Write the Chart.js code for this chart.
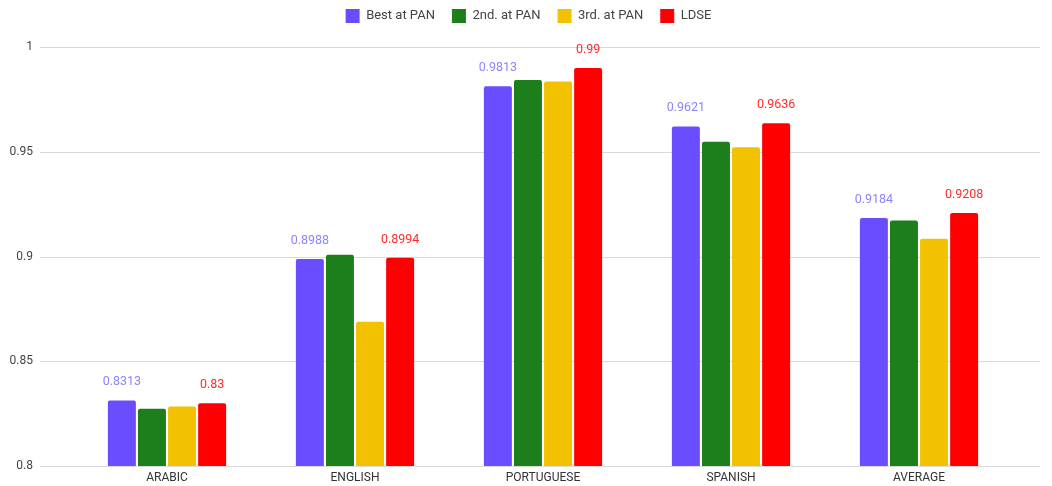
<!DOCTYPE html>
<html>
<head>
<meta charset="utf-8">
<script src="https://cdn.jsdelivr.net/npm/chart.js@4.4.1/dist/chart.umd.min.js"></script>
<style>
  html, body { margin: 0; padding: 0; background: #fff; }
  #wrap { width: 1052px; height: 486px; }
</style>
</head>
<body>
<div id="wrap"><canvas id="chart"></canvas></div>
<script>
  const categories = ["ARABIC", "ENGLISH", "PORTUGUESE", "SPANISH", "AVERAGE"];
  const bestAtPan = [0.8313, 0.8988, 0.9813, 0.9621, 0.9184];
  const secondAtPan = [0.8273, 0.9008, 0.9843, 0.9548, 0.9172];
  const thirdAtPan = [0.8284, 0.8688, 0.9835, 0.9521, 0.9085];
  const ldse = [0.83, 0.8994, 0.99, 0.9636, 0.9208];
  const yTicks = [0.8, 0.85, 0.9, 0.95, 1];

  const FONT = "Roboto, 'Noto Sans', sans-serif";

  // gridlines in the original run past the plot area on both sides
  const wideGrid = {
    id: "wideGrid",
    beforeDatasetsDraw(chart) {
      const ctx = chart.ctx;
      const y = chart.scales.y;
      ctx.save();
      ctx.strokeStyle = "#d9d9d9";
      ctx.lineWidth = 1;
      yTicks.forEach((v) => {
        const py = Math.round(y.getPixelForValue(v)) + 0.5;
        ctx.beginPath();
        ctx.moveTo(40, py);
        ctx.lineTo(1040, py);
        ctx.stroke();
      });
      ctx.restore();
    },
  };

  // value labels above the "Best" and "LDSE" bars only
  const valueLabels = {
    id: "valueLabels",
    afterDatasetsDraw(chart) {
      const ctx = chart.ctx;
      ctx.save();
      ctx.font = "12.5px " + FONT;
      ctx.textAlign = "center";
      ctx.textBaseline = "bottom";
      [0, 3].forEach((di) => {
        const ds = chart.data.datasets[di];
        chart.getDatasetMeta(di).data.forEach((bar, i) => {
          ctx.fillStyle = ds.labelColor;
          ctx.fillText(String(ds.data[i]), bar.x, bar.y - 12);
        });
      });
      ctx.restore();
    },
  };

  // legend sits near the top edge with a wide gap before the plot,
  // and is centred on the whole canvas rather than the padded area
  const legendGap = {
    id: "legendGap",
    beforeInit(chart) {
      const origFit = chart.legend.fit;
      chart.legend.fit = function () {
        origFit.call(this);
        this.height = 47;
      };
    },
    afterLayout(chart) {
      const lg = chart.legend;
      lg.left += 22;
      lg.right += 22;
      lg.top -= 8;
      lg.bottom -= 8;
    },
  };

  new Chart(document.getElementById("chart"), {
    type: "bar",
    data: {
      labels: categories,
      datasets: [
        { label: "Best at PAN", data: bestAtPan, backgroundColor: "#6a4dff", labelColor: "#8c84ff" },
        { label: "2nd. at PAN", data: secondAtPan, backgroundColor: "#1c7f1c" },
        { label: "3rd. at PAN", data: thirdAtPan, backgroundColor: "#f2c200" },
        { label: "LDSE", data: ldse, backgroundColor: "#ff0000", labelColor: "#ff2b2b" },
      ],
    },
    options: {
      responsive: true,
      maintainAspectRatio: false,
      animation: false,
      layout: { padding: { top: 0, right: 39, bottom: 0, left: 0 } },
      datasets: {
        bar: { categoryPercentage: 0.64, barPercentage: 0.93, borderRadius: 2 },
      },
      scales: {
        x: {
          afterFit(axis) {
            axis.height = 20;
          },
          grid: { display: false, drawTicks: false },
          border: { display: false },
          ticks: { color: "#333", font: { family: FONT, size: 12 }, padding: 5 },
        },
        y: {
          min: 0.8,
          max: 1,
          afterBuildTicks(axis) {
            axis.ticks = yTicks.map((v) => ({ value: v }));
          },
          afterFit(axis) {
            axis.width = 73;
            // the big tick padding would otherwise be added above and below
            axis.paddingTop = 0;
            axis.paddingBottom = 0;
          },
          grid: { display: false, drawTicks: false },
          border: { display: false },
          ticks: {
            color: "#444",
            font: { family: FONT, size: 12 },
            padding: 40,
            callback: (v) => String(+v.toFixed(2)),
          },
        },
      },
      plugins: {
        legend: {
          position: "top",
          labels: {
            color: "#444",
            font: { family: FONT, size: 13 },
            boxWidth: 14,
            boxHeight: 14,
            padding: 17,
          },
        },
        tooltip: { enabled: false },
      },
    },
    plugins: [wideGrid, valueLabels, legendGap],
  });
</script>
</body>
</html>
